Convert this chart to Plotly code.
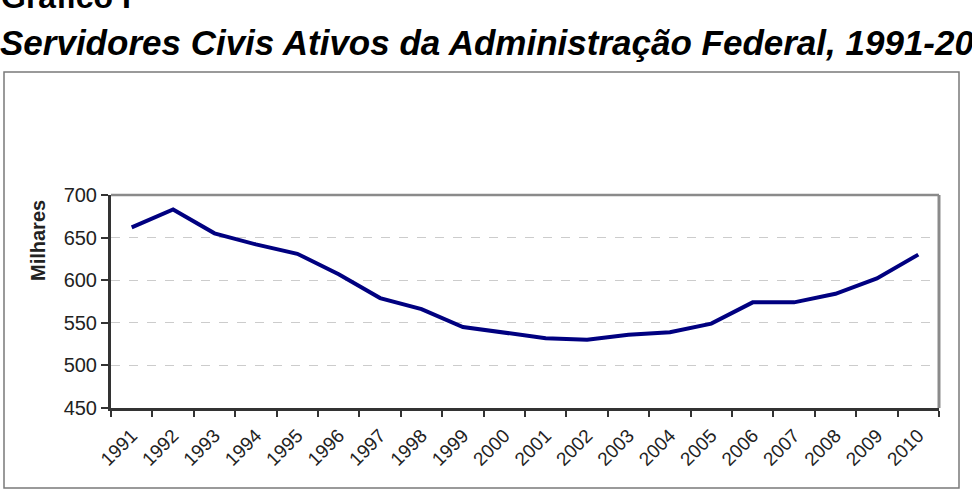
import plotly.graph_objects as go

years = [str(y) for y in range(1991, 2011)]
servidores = [662, 683, 655, 642, 631, 607, 579, 566, 545, 538,
              532, 530, 536, 539, 549, 574, 574, 584, 602, 630]
y_ticks = [450, 500, 550, 600, 650, 700]

W, H = 972, 490
L, R, T, B = 111, 939, 195, 408


def px(x):
    return (x - L) / (R - L)


def py(y):
    return (B - y) / (B - T)


fig = go.Figure()
fig.add_trace(go.Scatter(
    x=years, y=servidores, mode="lines",
    line=dict(color="#000080", width=4),
    hoverinfo="x+y", showlegend=False,
))

fig.update_layout(
    width=W, height=H,
    margin=dict(l=L, r=W - R, t=T, b=H - B),
    paper_bgcolor="white", plot_bgcolor="white",
    font=dict(family="Liberation Sans, Arial, sans-serif", color="#222"),
    xaxis=dict(
        type="category", range=[-0.5, 19.5], tickson="boundaries",
        tickangle=-45, ticks="outside", ticklen=6, tickwidth=1.5, tickcolor="#333",
        ticklabelstandoff=6,
        showline=True, linecolor="#333", linewidth=3, showgrid=False,
        tickfont=dict(size=19, color="#222"),
    ),
    yaxis=dict(
        range=[450, 700], tickvals=y_ticks, ticks="outside", ticklen=7,
        tickwidth=1.5, tickcolor="#333",
        showline=True, linecolor="#333", linewidth=3,
        showgrid=True, gridcolor="#cccccc", griddash="dash", gridwidth=1,
        zeroline=False,
        tickfont=dict(size=20, color="#222"),
    ),
    shapes=[
        # plot area top and right frame
        dict(type="line", xref="paper", yref="paper", x0=0, x1=1, y0=1, y1=1,
             line=dict(color="#8a8a8a", width=2.5)),
        dict(type="line", xref="paper", yref="paper", x0=1, x1=1, y0=0, y1=1,
             line=dict(color="#8a8a8a", width=3)),
        # outer chart border
        dict(type="rect", xref="paper", yref="paper",
             x0=px(4), x1=px(959), y0=py(488), y1=py(72),
             line=dict(color="#7a7a7a", width=1.5), layer="below"),
    ],
    annotations=[
        dict(text="<b>Milhares</b>", xref="paper", yref="paper",
             x=px(38), y=py(241), xanchor="center", yanchor="middle",
             textangle=-90, showarrow=False,
             font=dict(size=20, color="#222", family="Liberation Sans, Arial, sans-serif")),
        dict(text="<b>Gráfico I</b>", xref="paper", yref="paper",
             x=px(-1), y=py(-3), xanchor="left", yanchor="middle", showarrow=False,
             font=dict(size=32, color="black", family="Liberation Sans, Arial, sans-serif")),
        dict(text="<b><i>Servidores Civis Ativos da Administração Federal, 1991-2010</i></b>",
             xref="paper", yref="paper",
             x=px(-2), y=py(43), xanchor="left", yanchor="middle", showarrow=False,
             font=dict(size=35, color="black", family="Liberation Sans, Arial, sans-serif")),
    ],
)

fig.write_html("out.html")
